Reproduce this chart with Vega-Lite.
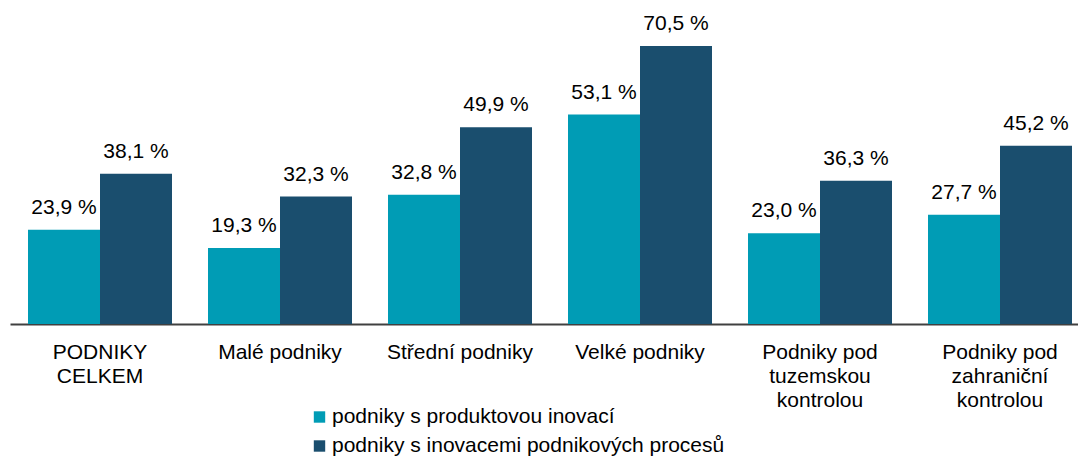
{
  "$schema": "https://vega.github.io/schema/vega-lite/v6.json",
  "width": 1080,
  "height": 315.5,
  "autosize": {"type": "none"},
  "padding": {"left": 10, "top": 8.5, "right": 0, "bottom": 133},
  "background": "white",
  "config": {
    "view": {"stroke": null},
    "font": "Liberation Sans",
    "locale": {"number": {"decimal": ",", "thousands": " ", "grouping": [3], "currency": ["", " Kč"]}}
  },
  "data": {
    "values": [
      {"cat": "PODNIKY|CELKEM", "series": "podniky s produktovou inovací", "value": 23.9},
      {"cat": "PODNIKY|CELKEM", "series": "podniky s inovacemi podnikových procesů", "value": 38.1},
      {"cat": "Malé podniky", "series": "podniky s produktovou inovací", "value": 19.3},
      {"cat": "Malé podniky", "series": "podniky s inovacemi podnikových procesů", "value": 32.3},
      {"cat": "Střední podniky", "series": "podniky s produktovou inovací", "value": 32.8},
      {"cat": "Střední podniky", "series": "podniky s inovacemi podnikových procesů", "value": 49.9},
      {"cat": "Velké podniky", "series": "podniky s produktovou inovací", "value": 53.1},
      {"cat": "Velké podniky", "series": "podniky s inovacemi podnikových procesů", "value": 70.5},
      {"cat": "Podniky pod|tuzemskou|kontrolou", "series": "podniky s produktovou inovací", "value": 23.0},
      {"cat": "Podniky pod|tuzemskou|kontrolou", "series": "podniky s inovacemi podnikových procesů", "value": 36.3},
      {"cat": "Podniky pod|zahraniční|kontrolou", "series": "podniky s produktovou inovací", "value": 27.7},
      {"cat": "Podniky pod|zahraniční|kontrolou", "series": "podniky s inovacemi podnikových procesů", "value": 45.2}
    ]
  },
  "transform": [
    {"calculate": "format(datum.value, '.1f') + ' %'", "as": "label"}
  ],
  "encoding": {
    "x": {
      "field": "cat",
      "type": "nominal",
      "sort": null,
      "scale": {"paddingInner": 0.2, "paddingOuter": 0.1},
      "axis": {
        "title": null,
        "labelAngle": 0,
        "labelExpr": "split(datum.value, '|')",
        "labelFontSize": 21,
        "labelColor": "#000000",
        "labelPadding": 17,
        "labelLineHeight": 24,
        "labelBaseline": "top",
        "ticks": false,
        "domainColor": "#404040",
        "domainWidth": 2,
        "labelLimit": 300
      }
    },
    "xOffset": {
      "field": "series",
      "type": "nominal",
      "sort": ["podniky s produktovou inovací", "podniky s inovacemi podnikových procesů"]
    },
    "y": {
      "field": "value",
      "type": "quantitative",
      "scale": {"domain": [0, 80], "nice": false},
      "axis": null
    }
  },
  "layer": [
    {
      "mark": {"type": "bar"},
      "encoding": {
        "color": {
          "field": "series",
          "type": "nominal",
          "sort": ["podniky s produktovou inovací", "podniky s inovacemi podnikových procesů"],
          "scale": {"domain": ["podniky s produktovou inovací", "podniky s inovacemi podnikových procesů"], "range": ["#009cb5", "#1a4e6e"]},
          "legend": {
            "title": null,
            "orient": "none",
            "legendX": 299,
            "legendY": 398,
            "direction": "vertical",
            "symbolType": "square",
            "symbolSize": 130,
            "symbolStrokeWidth": 0,
            "labelFontSize": 21,
            "labelColor": "#000000",
            "labelLimit": 600,
            "rowPadding": 7,
            "labelOffset": 2
          }
        }
      }
    },
    {
      "mark": {"type": "text", "baseline": "alphabetic", "dy": -16, "fontSize": 21, "color": "#000000"},
      "encoding": {"text": {"field": "label"}}
    }
  ]
}
